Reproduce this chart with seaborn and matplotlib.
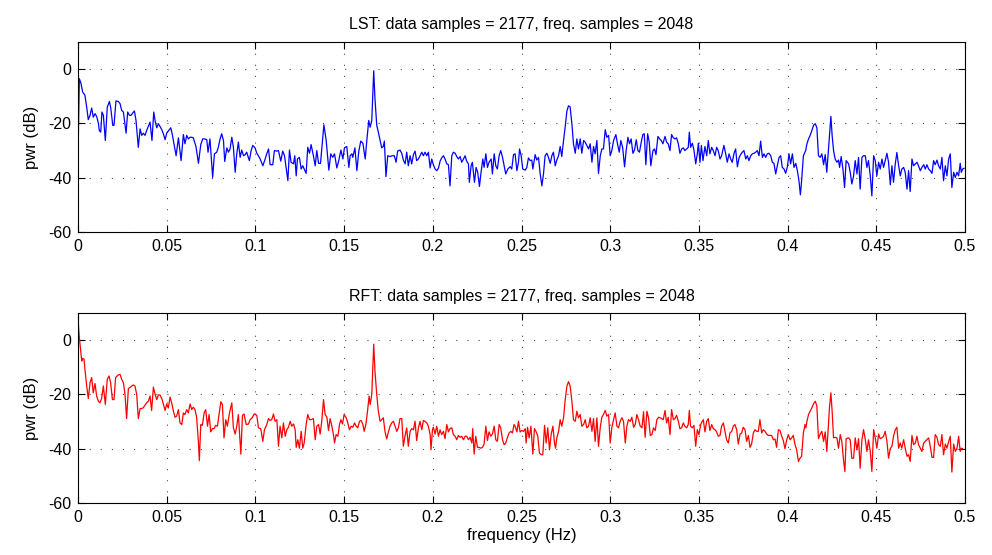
import numpy as np
import pandas as pd
import matplotlib
matplotlib.use("Agg")
import matplotlib.pyplot as plt
import seaborn as sns

# ---------------- data ----------------
lst_freq = [0.0, 0.00075, 0.0017, 0.0026, 0.0039, 0.0049, 0.0058, 0.0068, 0.0077, 0.0086, 0.0096, 0.0105, 0.0115, 0.0120, 0.0128, 0.0135, 0.0143, 0.0154, 0.0165, 0.0177, 0.0184, 0.0196, 0.0203, 0.0214, 0.0227, 0.0237, 0.0246, 0.0256, 0.0271, 0.0280, 0.0290, 0.0299, 0.0308, 0.0318, 0.0327, 0.0340, 0.0350, 0.0359, 0.0368, 0.0378, 0.0387, 0.0399, 0.0406, 0.0417, 0.0427, 0.0436, 0.0444, 0.0453, 0.0462, 0.0472, 0.0481, 0.0491, 0.0500, 0.0509, 0.0523, 0.0532, 0.0541, 0.0553, 0.0566, 0.0581, 0.0594, 0.0603, 0.0613, 0.0622, 0.0632, 0.0641, 0.0650, 0.0665, 0.0679, 0.0692, 0.0703, 0.0714, 0.0726, 0.0733, 0.0744, 0.0759, 0.0769, 0.0782, 0.0791, 0.0801, 0.0810, 0.0820, 0.0827,
            0.0839, 0.0848, 0.0857, 0.0867, 0.0876, 0.0886, 0.0895, 0.0904, 0.0914, 0.0923, 0.0933, 0.0942, 0.0951, 0.0966, 0.0976, 0.0985, 0.0998, 0.1008, 0.1017, 0.1027, 0.1042, 0.1055, 0.1064, 0.1074, 0.1083, 0.1098, 0.1107, 0.1121, 0.1130, 0.1143, 0.1154, 0.1164, 0.1173, 0.1183, 0.1192, 0.1201, 0.1215, 0.1222, 0.1230, 0.1237, 0.1248, 0.1258, 0.1267, 0.1286, 0.1295, 0.1305, 0.1314, 0.1327, 0.1337, 0.1346, 0.1356, 0.1367, 0.1374, 0.1386, 0.1399, 0.1414, 0.1425, 0.1436, 0.1446, 0.1459, 0.1470, 0.1482, 0.1493, 0.1502, 0.1515, 0.1527, 0.1534, 0.1544, 0.1549, 0.1561, 0.1572, 0.1583, 0.1594, 0.1606, 0.1619, 0.1628, 0.1639, 0.1647,
            0.1656, 0.1667, 0.1674, 0.1684, 0.1693, 0.1703, 0.1712, 0.1721, 0.1727, 0.1736, 0.1746, 0.1759, 0.1772, 0.1783, 0.1793, 0.1802, 0.1815, 0.1825, 0.1834, 0.1844, 0.1853, 0.1862, 0.1872, 0.1881, 0.1891, 0.1900, 0.1909, 0.1919, 0.1928, 0.1938, 0.1947, 0.1956, 0.1966, 0.1975, 0.1985, 0.1994, 0.2003, 0.2013, 0.2022, 0.2032, 0.2041, 0.2050, 0.2060, 0.2069, 0.2079, 0.2088, 0.2097, 0.2107, 0.2116, 0.2126, 0.2135, 0.2144, 0.2154, 0.2163, 0.2173, 0.2182, 0.2191, 0.2201, 0.2206, 0.2216, 0.2223, 0.2235, 0.2244, 0.2253, 0.2263, 0.2272, 0.2282, 0.2289, 0.2299, 0.2308, 0.2317, 0.2329, 0.2336, 0.2346, 0.2355, 0.2364, 0.2374, 0.2383, 0.2393, 0.2402, 0.2411, 0.2423, 0.2436, 0.2445, 0.2455, 0.2464,
            0.2474, 0.2483, 0.2489, 0.2498, 0.2507, 0.2521, 0.2530, 0.2539, 0.2549, 0.2558, 0.2564, 0.2577, 0.2586, 0.2596, 0.2605, 0.2615, 0.2624, 0.2633, 0.2643, 0.2652, 0.2662, 0.2671, 0.2680, 0.2690, 0.2699, 0.2709, 0.2718, 0.2727, 0.2737, 0.2746, 0.2756, 0.2765, 0.2774, 0.2784, 0.2793, 0.2803, 0.2812, 0.2821, 0.2831, 0.2840, 0.2850, 0.2859, 0.2868, 0.2878, 0.2887, 0.2897, 0.2906, 0.2915, 0.2925, 0.2934, 0.2944, 0.2953, 0.2962, 0.2972, 0.2981, 0.2991, 0.3000, 0.3009, 0.3019, 0.3032, 0.3041, 0.3051, 0.3060, 0.3070, 0.3081, 0.3090, 0.3100, 0.3109, 0.3118, 0.3128, 0.3137, 0.3147, 0.3156, 0.3165, 0.3175, 0.3184, 0.3192, 0.3201, 0.3211, 0.3220, 0.3229, 0.3241, 0.3250, 0.3258, 0.3269, 0.3282,
            0.3288, 0.3297, 0.3309, 0.3318, 0.3327, 0.3337, 0.3346, 0.3356, 0.3365, 0.3374, 0.3384, 0.3393, 0.3403, 0.3412, 0.3421, 0.3431, 0.3440, 0.3446, 0.3453, 0.3463, 0.3472, 0.3482, 0.3491, 0.3497, 0.3506, 0.3514, 0.3523, 0.3534, 0.3544, 0.3553, 0.3562, 0.3572, 0.3581, 0.3591, 0.3600, 0.3609, 0.3619, 0.3628, 0.3641, 0.3651, 0.3660, 0.3670, 0.3679, 0.3688, 0.3698, 0.3707, 0.3717, 0.3726, 0.3735, 0.3745, 0.3754, 0.3764, 0.3773, 0.3782, 0.3792, 0.3801, 0.3811, 0.3820, 0.3829, 0.3839, 0.3848, 0.3858, 0.3867, 0.3876, 0.3886, 0.3895, 0.3905, 0.3914, 0.3923, 0.3933, 0.3942, 0.3952, 0.3961, 0.3970, 0.3980, 0.3989, 0.3999, 0.4008, 0.4017, 0.4027, 0.4036, 0.4046, 0.4055, 0.4064, 0.4072, 0.4079, 0.4089, 0.4102,
            0.4109, 0.4118, 0.4127, 0.4137, 0.4146, 0.4156, 0.4165, 0.4174, 0.4184, 0.4193, 0.4203, 0.4212, 0.4221, 0.4231, 0.4236, 0.4244, 0.4251, 0.4259, 0.4268, 0.4278, 0.4287, 0.4293, 0.4302, 0.4312, 0.4321, 0.4330, 0.4344, 0.4353, 0.4362, 0.4372, 0.4381, 0.4391, 0.4400, 0.4409, 0.4419, 0.4428, 0.4438, 0.4447, 0.4456, 0.4466, 0.4475, 0.4485, 0.4494, 0.4503, 0.4513, 0.4522, 0.4532, 0.4541, 0.4550, 0.4560, 0.4569, 0.4579, 0.4588, 0.4597, 0.4607, 0.4616, 0.4626, 0.4635, 0.4644, 0.4654, 0.4663, 0.4673, 0.4682, 0.4691, 0.4701, 0.4710, 0.4720, 0.4729, 0.4738, 0.4748, 0.4757, 0.4767, 0.4776, 0.4785, 0.4795, 0.4804, 0.4814, 0.4823, 0.4832, 0.4842, 0.4851, 0.4861, 0.4870, 0.4879, 0.4889, 0.4898, 0.4908, 0.4917, 0.4926, 0.4936, 0.4945, 0.4955, 0.4964, 0.4973, 0.4979, 0.4987, 0.4996]
lst_pwr = [-32.5, -3.5, -5.3, -8.4, -9.6, -14.0, -18.6, -17.0, -14.3, -17.7, -16.4, -17.4, -19.9, -22.6, -23.2, -15.8, -17.0, -26.3, -14.0, -11.9, -14.0, -20.7, -20.7, -11.7, -11.9, -12.7, -15.2, -15.8, -23.6, -15.8, -17.0, -17.0, -16.2, -15.4, -18.9, -28.8, -22.0, -24.4, -23.6, -24.4, -22.6, -20.7, -19.5, -26.3, -15.8, -19.5, -21.6, -20.1, -21.1, -22.3, -23.8, -26.0, -23.6, -22.8, -21.6, -24.2, -27.5, -31.9, -25.3, -33.7, -24.1, -27.5, -24.4, -25.7, -25.1, -25.1, -25.3, -28.5, -34.7, -27.8, -25.7, -25.7, -26.0, -30.6, -25.7, -39.9, -31.2, -30.6, -28.8, -25.7, -23.8, -26.3, -34.0,
           -29.0, -30.6, -29.4, -25.1, -28.8, -38.0, -31.2, -26.9, -32.5, -29.8, -31.9, -31.5, -30.6, -33.7, -30.0, -28.1, -29.0, -31.0, -31.9, -33.1, -35.6, -33.1, -31.2, -29.4, -35.2, -35.2, -30.0, -30.2, -30.0, -33.9, -30.2, -31.9, -36.2, -41.1, -29.8, -34.3, -34.9, -31.9, -39.3, -33.1, -32.5, -36.8, -35.6, -38.4, -28.8, -31.0, -27.8, -31.9, -35.6, -30.0, -34.7, -34.7, -29.4, -20.5, -26.3, -37.2, -31.2, -32.5, -31.2, -36.4, -33.7, -29.8, -33.1, -29.0, -28.5, -36.2, -31.9, -31.2, -32.5, -29.0, -37.4, -30.2, -26.5, -27.3, -33.1, -26.3, -18.9, -21.4,
           -18.9, -0.6, -10.9, -20.7, -23.2, -26.3, -29.0, -28.5, -26.5, -39.6, -31.9, -32.2, -31.9, -31.9, -34.3, -30.2, -29.8, -31.0, -33.5, -34.9, -30.6, -35.6, -31.9, -34.9, -31.5, -30.2, -33.7, -33.1, -31.9, -30.6, -31.9, -30.6, -31.9, -30.6, -36.4, -33.1, -35.2, -36.8, -37.4, -36.5, -33.9, -32.7, -31.9, -33.1, -34.9, -35.2, -43.0, -31.9, -30.6, -31.0, -32.2, -33.1, -32.2, -34.3, -33.1, -31.9, -33.9, -34.9, -41.7, -35.6, -34.3, -41.7, -36.2, -38.0, -43.2, -38.0, -33.1, -36.2, -31.2, -36.2, -34.3, -33.1, -38.6, -31.2, -35.6, -36.8, -31.9, -30.0, -32.5, -35.6, -38.6, -36.8, -35.9, -36.8, -31.5, -31.2,
           -37.4, -34.3, -29.4, -31.9, -36.8, -37.2, -36.2, -32.7, -33.7, -33.5, -36.8, -31.5, -33.5, -32.5, -38.4, -43.0, -38.6, -31.9, -31.0, -32.5, -34.7, -31.9, -30.6, -35.6, -33.5, -31.9, -28.5, -32.2, -26.3, -21.4, -15.4, -13.5, -13.9, -20.1, -27.5, -31.0, -25.7, -29.4, -25.7, -31.0, -26.3, -26.9, -28.1, -29.4, -27.5, -34.3, -28.5, -31.2, -26.3, -38.4, -31.9, -29.4, -29.4, -22.3, -25.1, -24.4, -31.9, -30.0, -26.3, -24.1, -27.5, -30.6, -26.3, -28.8, -36.0, -30.0, -25.1, -27.5, -25.7, -31.0, -29.8, -26.0, -30.0, -30.6, -26.9, -24.1, -23.8, -35.2, -23.8, -26.9, -35.6, -30.0, -29.4, -31.5, -24.8, -26.0,
           -26.3, -27.5, -24.8, -26.9, -27.5, -30.0, -24.1, -25.3, -25.7, -25.3, -27.5, -31.0, -29.4, -29.0, -30.0, -29.4, -28.8, -23.2, -28.8, -27.3, -29.8, -34.9, -31.2, -27.3, -34.3, -28.1, -33.7, -28.5, -31.9, -26.3, -31.2, -28.8, -30.0, -31.9, -28.8, -30.0, -33.1, -31.9, -28.1, -31.2, -34.3, -31.2, -33.1, -34.3, -31.0, -29.4, -36.0, -32.7, -31.5, -30.6, -30.0, -33.1, -31.9, -33.7, -31.9, -31.2, -31.0, -30.6, -30.0, -31.9, -26.5, -32.5, -31.2, -32.5, -31.2, -31.0, -31.9, -34.3, -34.7, -38.6, -35.6, -32.5, -31.9, -36.2, -36.8, -38.4, -35.9, -31.2, -34.9, -31.2, -36.2, -34.7, -37.4, -41.1, -46.3, -41.1, -31.9, -30.0,
           -27.5, -25.7, -24.4, -22.6, -20.7, -20.1, -21.6, -31.9, -32.5, -31.2, -35.2, -31.5, -38.0, -28.8, -24.4, -17.4, -24.4, -30.0, -33.1, -34.3, -33.5, -36.2, -32.2, -36.8, -43.6, -33.7, -34.9, -38.0, -42.3, -39.3, -33.7, -38.6, -32.5, -44.2, -32.5, -31.9, -31.9, -36.2, -33.7, -39.3, -46.7, -31.9, -33.7, -39.3, -34.3, -36.8, -33.1, -36.2, -33.7, -31.0, -34.3, -42.6, -35.6, -41.7, -34.9, -30.7, -35.6, -39.3, -36.8, -36.2, -38.0, -44.2, -37.4, -45.1, -33.1, -35.6, -34.9, -34.3, -35.6, -37.4, -36.2, -35.2, -36.8, -35.2, -36.8, -37.4, -38.4, -33.7, -35.2, -33.5, -35.6, -36.8, -32.5, -41.1, -35.6, -39.3, -33.1, -31.2, -43.6, -38.0, -39.9, -38.0, -39.3, -34.7, -38.0, -36.8, -36.5]

rft_freq = [0.0, 0.00075, 0.0015, 0.0021, 0.0026, 0.0034, 0.0039, 0.0049, 0.0058, 0.0068, 0.0077, 0.0086, 0.0096, 0.0105, 0.0115, 0.0124, 0.0133, 0.0143, 0.0154, 0.0165, 0.0175, 0.0184, 0.0194, 0.0203, 0.0212, 0.0227, 0.0237, 0.0246, 0.0256, 0.0265, 0.0274, 0.0284, 0.0293, 0.0303, 0.0312, 0.0321, 0.0331, 0.0340, 0.0350, 0.0359, 0.0368, 0.0378, 0.0387, 0.0397, 0.0406, 0.0415, 0.0425, 0.0434, 0.0444, 0.0453, 0.0462, 0.0472, 0.0481, 0.0491, 0.0500, 0.0509, 0.0519, 0.0528, 0.0538, 0.0547, 0.0556, 0.0566, 0.0575, 0.0585, 0.0594, 0.0603, 0.0613, 0.0622, 0.0632, 0.0641, 0.0650, 0.0660, 0.0669, 0.0679, 0.0684, 0.0692, 0.0701, 0.0711, 0.0720, 0.0730, 0.0739, 0.0748, 0.0758, 0.0767, 0.0776, 0.0786, 0.0795, 0.0805, 0.0814, 0.0823,
            0.0833, 0.0842, 0.0854, 0.0867, 0.0876, 0.0886, 0.0895, 0.0904, 0.0918, 0.0927, 0.0936, 0.0948, 0.0961, 0.0970, 0.0982, 0.0993, 0.1008, 0.1017, 0.1030, 0.1042, 0.1051, 0.1064, 0.1074, 0.1083, 0.1092, 0.1102, 0.1111, 0.1121, 0.1130, 0.1139, 0.1149, 0.1158, 0.1168, 0.1177, 0.1186, 0.1196, 0.1205, 0.1215, 0.1224, 0.1230, 0.1239, 0.1248, 0.1258, 0.1267, 0.1275, 0.1286, 0.1295, 0.1305, 0.1314, 0.1327, 0.1337, 0.1346, 0.1356, 0.1365, 0.1374, 0.1384, 0.1393, 0.1403, 0.1412, 0.1421, 0.1431, 0.1440, 0.1446, 0.1455, 0.1465, 0.1474, 0.1482, 0.1491, 0.1500, 0.1512, 0.1521, 0.1530, 0.1540, 0.1549, 0.1559, 0.1568, 0.1577, 0.1587, 0.1596, 0.1606, 0.1613, 0.1623, 0.1632, 0.1641, 0.1647,
            0.1656, 0.1667, 0.1674, 0.1684, 0.1693, 0.1703, 0.1712, 0.1721, 0.1731, 0.1740, 0.1750, 0.1759, 0.1768, 0.1778, 0.1787, 0.1797, 0.1806, 0.1815, 0.1825, 0.1834, 0.1844, 0.1853, 0.1862, 0.1872, 0.1881, 0.1891, 0.1900, 0.1909, 0.1919, 0.1928, 0.1938, 0.1947, 0.1956, 0.1966, 0.1975, 0.1985, 0.1990, 0.1998, 0.2003, 0.2013, 0.2022, 0.2032, 0.2041, 0.2050, 0.2060, 0.2069, 0.2079, 0.2088, 0.2097, 0.2107, 0.2116, 0.2126, 0.2135, 0.2144, 0.2154, 0.2163, 0.2173, 0.2182, 0.2191, 0.2201, 0.2210, 0.2220, 0.2225, 0.2233, 0.2242, 0.2252, 0.2261, 0.2270, 0.2280, 0.2289, 0.2299, 0.2308, 0.2317, 0.2327, 0.2336, 0.2346, 0.2355, 0.2364, 0.2374, 0.2383, 0.2393, 0.2402, 0.2411, 0.2421, 0.2430, 0.2440, 0.2449, 0.2458, 0.2464,
            0.2474, 0.2483, 0.2492, 0.2502, 0.2511, 0.2521, 0.2526, 0.2534, 0.2543, 0.2553, 0.2564, 0.2573, 0.2583, 0.2592, 0.2601, 0.2611, 0.2620, 0.2630, 0.2639, 0.2648, 0.2658, 0.2667, 0.2677, 0.2686, 0.2692, 0.2699, 0.2709, 0.2718, 0.2727, 0.2737, 0.2746, 0.2756, 0.2765, 0.2774, 0.2784, 0.2793, 0.2803, 0.2812, 0.2821, 0.2831, 0.2840, 0.2850, 0.2859, 0.2868, 0.2878, 0.2887, 0.2897, 0.2906, 0.2915, 0.2925, 0.2934, 0.2944, 0.2953, 0.2962, 0.2972, 0.2981, 0.2991, 0.3000, 0.3009, 0.3019, 0.3028, 0.3038, 0.3047, 0.3056, 0.3066, 0.3075, 0.3085, 0.3094, 0.3103, 0.3113, 0.3122, 0.3132, 0.3141, 0.3150, 0.3160, 0.3169, 0.3179, 0.3188, 0.3197, 0.3207, 0.3216, 0.3226, 0.3235, 0.3244, 0.3254, 0.3263, 0.3273, 0.3282,
            0.3290, 0.3299, 0.3309, 0.3318, 0.3327, 0.3337, 0.3346, 0.3356, 0.3365, 0.3374, 0.3384, 0.3393, 0.3403, 0.3412, 0.3421, 0.3431, 0.3440, 0.3446, 0.3453, 0.3463, 0.3472, 0.3482, 0.3491, 0.3500, 0.3510, 0.3519, 0.3525, 0.3534, 0.3544, 0.3553, 0.3562, 0.3572, 0.3581, 0.3591, 0.3600, 0.3609, 0.3619, 0.3628, 0.3638, 0.3647, 0.3656, 0.3666, 0.3675, 0.3685, 0.3694, 0.3703, 0.3713, 0.3722, 0.3732, 0.3741, 0.3750, 0.3760, 0.3769, 0.3779, 0.3788, 0.3797, 0.3807, 0.3816, 0.3826, 0.3835, 0.3844, 0.3854, 0.3863, 0.3873, 0.3882, 0.3891, 0.3901, 0.3910, 0.3920, 0.3929, 0.3938, 0.3948, 0.3957, 0.3967, 0.3976, 0.3985, 0.3995, 0.4004, 0.4014, 0.4023, 0.4032, 0.4042, 0.4051, 0.4061, 0.4070, 0.4079, 0.4089, 0.4098,
            0.4103, 0.4109, 0.4118, 0.4127, 0.4137, 0.4146, 0.4156, 0.4165, 0.4174, 0.4184, 0.4193, 0.4203, 0.4212, 0.4221, 0.4231, 0.4236, 0.4244, 0.4251, 0.4259, 0.4268, 0.4278, 0.4287, 0.4297, 0.4306, 0.4315, 0.4323, 0.4330, 0.4344, 0.4353, 0.4362, 0.4372, 0.4381, 0.4391, 0.4400, 0.4409, 0.4419, 0.4428, 0.4438, 0.4447, 0.4456, 0.4466, 0.4475, 0.4485, 0.4494, 0.4503, 0.4513, 0.4522, 0.4532, 0.4541, 0.4550, 0.4560, 0.4569, 0.4579, 0.4588, 0.4597, 0.4607, 0.4616, 0.4626, 0.4635, 0.4644, 0.4654, 0.4663, 0.4673, 0.4682, 0.4691, 0.4701, 0.4710, 0.4720, 0.4729, 0.4738, 0.4748, 0.4757, 0.4767, 0.4776, 0.4785, 0.4795, 0.4804, 0.4814, 0.4823, 0.4832, 0.4842, 0.4851, 0.4861, 0.4870, 0.4879, 0.4889, 0.4898, 0.4908, 0.4917, 0.4926, 0.4936, 0.4945, 0.4955, 0.4964, 0.4973, 0.4979, 0.4987]
rft_pwr = [8.0, 1.0, -4.0, -7.7, -6.7, -7.0, -10.7, -16.9, -21.5, -15.7, -13.8, -19.4, -16.0, -20.6, -22.5, -23.1, -21.5, -16.9, -23.7, -14.4, -13.2, -15.7, -21.9, -21.9, -13.8, -12.8, -12.6, -14.4, -15.7, -20.0, -28.9, -17.8, -17.5, -16.9, -16.5, -16.9, -20.0, -28.9, -25.2, -25.2, -24.9, -23.9, -23.1, -22.5, -20.6, -25.9, -17.3, -19.8, -21.9, -20.2, -20.2, -21.5, -23.5, -25.9, -23.5, -25.0, -21.0, -23.1, -26.2, -28.4, -28.0, -25.6, -30.5, -31.1, -26.8, -27.4, -25.6, -26.8, -23.5, -25.6, -24.7, -25.6, -28.6, -37.9, -44.4, -31.1, -31.4, -26.8, -25.6, -31.7, -27.4, -33.8, -32.6, -32.6, -31.4, -31.7, -27.4, -22.7, -23.7, -36.0,
           -29.3, -31.7, -26.8, -23.1, -32.3, -34.6, -31.7, -27.4, -42.0, -27.7, -27.2, -31.1, -30.9, -29.3, -28.6, -27.2, -27.7, -32.3, -32.6, -37.3, -33.0, -31.1, -28.9, -29.6, -29.3, -27.2, -29.9, -29.3, -39.1, -31.7, -36.0, -30.5, -35.4, -33.0, -32.1, -29.9, -31.7, -30.9, -33.0, -39.5, -36.7, -39.8, -33.6, -39.8, -37.9, -31.1, -27.4, -29.3, -29.3, -28.9, -36.7, -31.7, -31.1, -34.6, -29.9, -21.9, -27.4, -28.4, -33.3, -28.9, -31.7, -34.8, -37.9, -34.8, -35.4, -31.1, -29.3, -30.9, -27.4, -28.6, -30.5, -33.0, -31.7, -32.1, -30.5, -31.7, -32.3, -29.9, -29.6, -31.1, -33.6, -30.9, -26.2, -20.6, -23.7,
           -20.0, -1.5, -11.4, -20.0, -26.2, -29.9, -29.3, -28.6, -33.8, -36.4, -33.8, -31.7, -30.5, -29.9, -31.7, -33.6, -32.3, -28.9, -28.9, -39.1, -35.1, -32.3, -39.1, -33.6, -32.6, -33.0, -29.9, -37.0, -32.3, -29.9, -33.0, -29.6, -29.9, -30.5, -31.7, -34.8, -40.4, -33.0, -32.1, -34.6, -31.7, -35.4, -33.0, -34.8, -33.6, -36.3, -31.1, -33.8, -32.6, -32.3, -34.8, -35.4, -36.7, -35.1, -35.8, -35.4, -36.7, -35.4, -35.4, -36.7, -35.8, -37.9, -32.6, -42.0, -35.4, -39.5, -39.5, -39.8, -39.5, -38.3, -31.7, -37.0, -33.8, -35.4, -34.6, -31.7, -36.7, -37.3, -31.1, -32.3, -36.7, -38.5, -37.9, -35.8, -34.2, -33.6, -34.2, -31.1, -31.7,
           -33.8, -29.9, -33.8, -33.3, -33.6, -32.6, -37.9, -32.1, -36.0, -31.7, -42.0, -32.6, -33.8, -35.4, -41.6, -42.2, -42.2, -31.4, -37.9, -32.3, -40.4, -34.8, -31.7, -37.9, -39.8, -36.0, -33.6, -29.3, -31.7, -28.6, -22.2, -16.9, -15.3, -16.9, -22.5, -29.3, -29.9, -26.2, -28.6, -27.4, -31.7, -31.1, -29.3, -32.3, -31.7, -28.6, -33.6, -28.9, -37.3, -28.6, -39.1, -32.1, -28.4, -27.4, -25.9, -28.0, -27.4, -37.9, -32.3, -29.3, -26.8, -31.7, -32.3, -29.9, -28.6, -29.9, -37.9, -31.7, -29.3, -29.9, -28.4, -32.1, -31.1, -27.4, -29.3, -31.7, -32.3, -26.4, -35.8, -26.2, -28.6, -35.1, -34.8, -32.3, -33.3, -29.3, -28.4, -28.6,
           -28.9, -29.3, -25.9, -30.5, -28.4, -34.8, -25.6, -29.3, -28.9, -27.7, -29.9, -32.6, -32.3, -30.5, -31.7, -32.3, -31.1, -25.9, -31.7, -32.3, -31.4, -39.1, -33.0, -34.8, -31.1, -29.9, -29.3, -33.8, -29.9, -28.9, -33.3, -31.1, -32.6, -33.0, -33.8, -35.4, -35.1, -31.7, -30.5, -33.6, -36.7, -37.9, -34.2, -33.6, -31.7, -31.1, -33.0, -38.3, -34.6, -34.2, -32.1, -33.0, -37.3, -35.1, -39.5, -38.3, -34.2, -33.0, -33.6, -33.6, -29.3, -34.2, -33.0, -33.6, -34.6, -35.1, -35.1, -35.1, -36.7, -36.4, -39.5, -33.0, -33.3, -35.4, -37.0, -40.0, -36.7, -34.8, -36.7, -36.0, -35.1, -38.5, -40.4, -44.7, -43.5, -42.8, -34.2, -31.1,
           -32.3, -29.9, -27.4, -26.2, -24.9, -23.5, -22.5, -24.3, -36.3, -34.6, -33.6, -37.3, -33.8, -41.0, -29.9, -24.9, -19.4, -26.2, -36.0, -35.8, -36.0, -39.8, -34.8, -37.5, -44.1, -48.4, -36.3, -36.0, -36.7, -43.5, -43.5, -36.0, -40.4, -36.3, -47.2, -36.7, -33.0, -36.7, -41.0, -36.7, -41.0, -48.4, -33.0, -36.0, -39.8, -34.6, -36.3, -36.0, -35.4, -33.6, -37.3, -43.5, -40.0, -39.1, -35.4, -33.0, -32.1, -39.8, -37.9, -39.8, -36.7, -39.8, -42.8, -42.2, -44.7, -35.1, -38.5, -37.9, -35.4, -38.5, -39.8, -41.0, -37.9, -37.3, -36.7, -36.0, -39.1, -43.2, -43.2, -34.8, -35.8, -38.5, -39.1, -34.8, -42.2, -38.3, -39.8, -37.3, -35.4, -48.6, -38.3, -41.0, -39.8, -35.4, -41.0, -39.8, -40.0]

titles = ["LST: data samples = 2177, freq. samples = 2048",
          "RFT: data samples = 2177, freq. samples = 2048"]
x_ticks = [0, 0.05, 0.1, 0.15, 0.2, 0.25, 0.3, 0.35, 0.4, 0.45, 0.5]
x_tick_labels = ["0", "0.05", "0.1", "0.15", "0.2", "0.25", "0.3", "0.35", "0.4", "0.45", "0.5"]
y_ticks = [-60, -40, -20, 0]

# ---------------- plotting ----------------
sns.set_style("white")
plt.rcParams["font.family"] = ["Liberation Sans", "DejaVu Sans"]
plt.rcParams["axes.unicode_minus"] = False
plt.rcParams["text.color"] = "black"
plt.rcParams["axes.labelcolor"] = "black"

fig = plt.figure(figsize=(9.92, 5.55), dpi=100)
ax1 = fig.add_axes([78/992, 1 - 232/555, 887/992, 190/555])
ax2 = fig.add_axes([78/992, 1 - 503/555, 887/992, 190/555])

df_lst = pd.DataFrame({"freq": lst_freq, "pwr": lst_pwr})
df_rft = pd.DataFrame({"freq": rft_freq, "pwr": rft_pwr})

sns.lineplot(data=df_lst, x="freq", y="pwr", ax=ax1, color="#0000ff", linewidth=0.9)
sns.lineplot(data=df_rft, x="freq", y="pwr", ax=ax2, color="#ff0000", linewidth=0.9)

for ax, title in zip([ax1, ax2], titles):
    ax.set_xlim(0, 0.5)
    ax.set_ylim(-60, 10)
    ax.set_xticks(x_ticks)
    ax.set_xticklabels(x_tick_labels)
    ax.set_yticks(y_ticks)
    ax.set_yticklabels([str(v) for v in y_ticks])
    ax.set_title(title, fontsize=11.5, pad=9, color="black")
    ax.set_ylabel("pwr (dB)", fontsize=12, labelpad=6, color="black")
    ax.set_xlabel("")
    ax.grid(True, color="black", linestyle=(0, (1, 9)), linewidth=0.8, alpha=0.7)
    ax.tick_params(direction="in", length=5, width=0.8, labelsize=11.5,
                   top=True, right=True, bottom=True, left=True, pad=5,
                   colors="black", labelcolor="black")
    for sp in ax.spines.values():
        sp.set_visible(True)
        sp.set_color("black")
        sp.set_linewidth(0.8)

ax2.set_xlabel("frequency (Hz)", fontsize=12, labelpad=2, color="black")

fig.savefig("out.png", dpi=100)
